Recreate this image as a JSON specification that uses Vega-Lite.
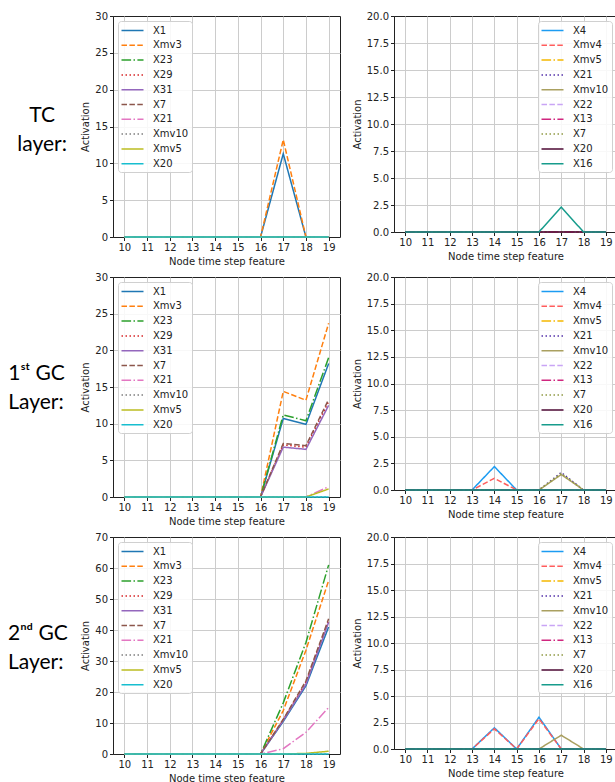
{
  "$schema": "https://vega.github.io/schema/vega-lite/v6.json",
  "padding": {"left": 7, "top": 10, "right": 0, "bottom": 0},
  "background": "white",
  "datasets": {
    "tcL": [
      {"s":"X1","t":10,"v":0},{"s":"X1","t":11,"v":0},{"s":"X1","t":12,"v":0},{"s":"X1","t":13,"v":0},{"s":"X1","t":14,"v":0},{"s":"X1","t":15,"v":0},{"s":"X1","t":16,"v":0},{"s":"X1","t":17,"v":11.3},{"s":"X1","t":18,"v":0},{"s":"X1","t":19,"v":0},
      {"s":"Xmv3","t":10,"v":0},{"s":"Xmv3","t":11,"v":0},{"s":"Xmv3","t":12,"v":0},{"s":"Xmv3","t":13,"v":0},{"s":"Xmv3","t":14,"v":0},{"s":"Xmv3","t":15,"v":0},{"s":"Xmv3","t":16,"v":0},{"s":"Xmv3","t":17,"v":13.2},{"s":"Xmv3","t":18,"v":0},{"s":"Xmv3","t":19,"v":0},
      {"s":"X23","t":10,"v":0},{"s":"X23","t":11,"v":0},{"s":"X23","t":12,"v":0},{"s":"X23","t":13,"v":0},{"s":"X23","t":14,"v":0},{"s":"X23","t":15,"v":0},{"s":"X23","t":16,"v":0},{"s":"X23","t":17,"v":0},{"s":"X23","t":18,"v":0},{"s":"X23","t":19,"v":0},
      {"s":"X29","t":10,"v":0},{"s":"X29","t":11,"v":0},{"s":"X29","t":12,"v":0},{"s":"X29","t":13,"v":0},{"s":"X29","t":14,"v":0},{"s":"X29","t":15,"v":0},{"s":"X29","t":16,"v":0},{"s":"X29","t":17,"v":0},{"s":"X29","t":18,"v":0},{"s":"X29","t":19,"v":0},
      {"s":"X31","t":10,"v":0},{"s":"X31","t":11,"v":0},{"s":"X31","t":12,"v":0},{"s":"X31","t":13,"v":0},{"s":"X31","t":14,"v":0},{"s":"X31","t":15,"v":0},{"s":"X31","t":16,"v":0},{"s":"X31","t":17,"v":0},{"s":"X31","t":18,"v":0},{"s":"X31","t":19,"v":0},
      {"s":"X7","t":10,"v":0},{"s":"X7","t":11,"v":0},{"s":"X7","t":12,"v":0},{"s":"X7","t":13,"v":0},{"s":"X7","t":14,"v":0},{"s":"X7","t":15,"v":0},{"s":"X7","t":16,"v":0},{"s":"X7","t":17,"v":0},{"s":"X7","t":18,"v":0},{"s":"X7","t":19,"v":0},
      {"s":"X21","t":10,"v":0},{"s":"X21","t":11,"v":0},{"s":"X21","t":12,"v":0},{"s":"X21","t":13,"v":0},{"s":"X21","t":14,"v":0},{"s":"X21","t":15,"v":0},{"s":"X21","t":16,"v":0},{"s":"X21","t":17,"v":0},{"s":"X21","t":18,"v":0},{"s":"X21","t":19,"v":0},
      {"s":"Xmv10","t":10,"v":0},{"s":"Xmv10","t":11,"v":0},{"s":"Xmv10","t":12,"v":0},{"s":"Xmv10","t":13,"v":0},{"s":"Xmv10","t":14,"v":0},{"s":"Xmv10","t":15,"v":0},{"s":"Xmv10","t":16,"v":0},{"s":"Xmv10","t":17,"v":0},{"s":"Xmv10","t":18,"v":0},{"s":"Xmv10","t":19,"v":0},
      {"s":"Xmv5","t":10,"v":0},{"s":"Xmv5","t":11,"v":0},{"s":"Xmv5","t":12,"v":0},{"s":"Xmv5","t":13,"v":0},{"s":"Xmv5","t":14,"v":0},{"s":"Xmv5","t":15,"v":0},{"s":"Xmv5","t":16,"v":0},{"s":"Xmv5","t":17,"v":0},{"s":"Xmv5","t":18,"v":0},{"s":"Xmv5","t":19,"v":0},
      {"s":"X20","t":10,"v":0},{"s":"X20","t":11,"v":0},{"s":"X20","t":12,"v":0},{"s":"X20","t":13,"v":0},{"s":"X20","t":14,"v":0},{"s":"X20","t":15,"v":0},{"s":"X20","t":16,"v":0},{"s":"X20","t":17,"v":0},{"s":"X20","t":18,"v":0},{"s":"X20","t":19,"v":0}
    ],
    "tcR": [
      {"s":"X4","t":10,"v":0},{"s":"X4","t":11,"v":0},{"s":"X4","t":12,"v":0},{"s":"X4","t":13,"v":0},{"s":"X4","t":14,"v":0},{"s":"X4","t":15,"v":0},{"s":"X4","t":16,"v":0},{"s":"X4","t":17,"v":0},{"s":"X4","t":18,"v":0},{"s":"X4","t":19,"v":0},
      {"s":"Xmv4","t":10,"v":0},{"s":"Xmv4","t":11,"v":0},{"s":"Xmv4","t":12,"v":0},{"s":"Xmv4","t":13,"v":0},{"s":"Xmv4","t":14,"v":0},{"s":"Xmv4","t":15,"v":0},{"s":"Xmv4","t":16,"v":0},{"s":"Xmv4","t":17,"v":0},{"s":"Xmv4","t":18,"v":0},{"s":"Xmv4","t":19,"v":0},
      {"s":"Xmv5","t":10,"v":0},{"s":"Xmv5","t":11,"v":0},{"s":"Xmv5","t":12,"v":0},{"s":"Xmv5","t":13,"v":0},{"s":"Xmv5","t":14,"v":0},{"s":"Xmv5","t":15,"v":0},{"s":"Xmv5","t":16,"v":0},{"s":"Xmv5","t":17,"v":0},{"s":"Xmv5","t":18,"v":0},{"s":"Xmv5","t":19,"v":0},
      {"s":"X21","t":10,"v":0},{"s":"X21","t":11,"v":0},{"s":"X21","t":12,"v":0},{"s":"X21","t":13,"v":0},{"s":"X21","t":14,"v":0},{"s":"X21","t":15,"v":0},{"s":"X21","t":16,"v":0},{"s":"X21","t":17,"v":0},{"s":"X21","t":18,"v":0},{"s":"X21","t":19,"v":0},
      {"s":"Xmv10","t":10,"v":0},{"s":"Xmv10","t":11,"v":0},{"s":"Xmv10","t":12,"v":0},{"s":"Xmv10","t":13,"v":0},{"s":"Xmv10","t":14,"v":0},{"s":"Xmv10","t":15,"v":0},{"s":"Xmv10","t":16,"v":0},{"s":"Xmv10","t":17,"v":0},{"s":"Xmv10","t":18,"v":0},{"s":"Xmv10","t":19,"v":0},
      {"s":"X22","t":10,"v":0},{"s":"X22","t":11,"v":0},{"s":"X22","t":12,"v":0},{"s":"X22","t":13,"v":0},{"s":"X22","t":14,"v":0},{"s":"X22","t":15,"v":0},{"s":"X22","t":16,"v":0},{"s":"X22","t":17,"v":0},{"s":"X22","t":18,"v":0},{"s":"X22","t":19,"v":0},
      {"s":"X13","t":10,"v":0},{"s":"X13","t":11,"v":0},{"s":"X13","t":12,"v":0},{"s":"X13","t":13,"v":0},{"s":"X13","t":14,"v":0},{"s":"X13","t":15,"v":0},{"s":"X13","t":16,"v":0},{"s":"X13","t":17,"v":0},{"s":"X13","t":18,"v":0},{"s":"X13","t":19,"v":0},
      {"s":"X7","t":10,"v":0},{"s":"X7","t":11,"v":0},{"s":"X7","t":12,"v":0},{"s":"X7","t":13,"v":0},{"s":"X7","t":14,"v":0},{"s":"X7","t":15,"v":0},{"s":"X7","t":16,"v":0},{"s":"X7","t":17,"v":0},{"s":"X7","t":18,"v":0},{"s":"X7","t":19,"v":0},
      {"s":"X20","t":10,"v":0},{"s":"X20","t":11,"v":0},{"s":"X20","t":12,"v":0},{"s":"X20","t":13,"v":0},{"s":"X20","t":14,"v":0},{"s":"X20","t":15,"v":0},{"s":"X20","t":16,"v":0},{"s":"X20","t":17,"v":0},{"s":"X20","t":18,"v":0},{"s":"X20","t":19,"v":0},
      {"s":"X16","t":10,"v":0},{"s":"X16","t":11,"v":0},{"s":"X16","t":12,"v":0},{"s":"X16","t":13,"v":0},{"s":"X16","t":14,"v":0},{"s":"X16","t":15,"v":0},{"s":"X16","t":16,"v":0},{"s":"X16","t":17,"v":2.3},{"s":"X16","t":18,"v":0},{"s":"X16","t":19,"v":0}
    ],
    "g1L": [
      {"s":"X1","t":10,"v":0},{"s":"X1","t":11,"v":0},{"s":"X1","t":12,"v":0},{"s":"X1","t":13,"v":0},{"s":"X1","t":14,"v":0},{"s":"X1","t":15,"v":0},{"s":"X1","t":16,"v":0},{"s":"X1","t":17,"v":10.7},{"s":"X1","t":18,"v":9.9},{"s":"X1","t":19,"v":18.2},
      {"s":"Xmv3","t":10,"v":0},{"s":"Xmv3","t":11,"v":0},{"s":"Xmv3","t":12,"v":0},{"s":"Xmv3","t":13,"v":0},{"s":"Xmv3","t":14,"v":0},{"s":"Xmv3","t":15,"v":0},{"s":"Xmv3","t":16,"v":0},{"s":"Xmv3","t":17,"v":14.4},{"s":"Xmv3","t":18,"v":13.2},{"s":"Xmv3","t":19,"v":23.7},
      {"s":"X23","t":10,"v":0},{"s":"X23","t":11,"v":0},{"s":"X23","t":12,"v":0},{"s":"X23","t":13,"v":0},{"s":"X23","t":14,"v":0},{"s":"X23","t":15,"v":0},{"s":"X23","t":16,"v":0},{"s":"X23","t":17,"v":11.2},{"s":"X23","t":18,"v":10.4},{"s":"X23","t":19,"v":19.0},
      {"s":"X29","t":10,"v":0},{"s":"X29","t":11,"v":0},{"s":"X29","t":12,"v":0},{"s":"X29","t":13,"v":0},{"s":"X29","t":14,"v":0},{"s":"X29","t":15,"v":0},{"s":"X29","t":16,"v":0},{"s":"X29","t":17,"v":7.1},{"s":"X29","t":18,"v":6.8},{"s":"X29","t":19,"v":13.0},
      {"s":"X31","t":10,"v":0},{"s":"X31","t":11,"v":0},{"s":"X31","t":12,"v":0},{"s":"X31","t":13,"v":0},{"s":"X31","t":14,"v":0},{"s":"X31","t":15,"v":0},{"s":"X31","t":16,"v":0},{"s":"X31","t":17,"v":6.8},{"s":"X31","t":18,"v":6.5},{"s":"X31","t":19,"v":12.5},
      {"s":"X7","t":10,"v":0},{"s":"X7","t":11,"v":0},{"s":"X7","t":12,"v":0},{"s":"X7","t":13,"v":0},{"s":"X7","t":14,"v":0},{"s":"X7","t":15,"v":0},{"s":"X7","t":16,"v":0},{"s":"X7","t":17,"v":7.3},{"s":"X7","t":18,"v":7.0},{"s":"X7","t":19,"v":13.3},
      {"s":"X21","t":10,"v":0},{"s":"X21","t":11,"v":0},{"s":"X21","t":12,"v":0},{"s":"X21","t":13,"v":0},{"s":"X21","t":14,"v":0},{"s":"X21","t":15,"v":0},{"s":"X21","t":16,"v":0},{"s":"X21","t":17,"v":0},{"s":"X21","t":18,"v":0},{"s":"X21","t":19,"v":1.4},
      {"s":"Xmv10","t":10,"v":0},{"s":"Xmv10","t":11,"v":0},{"s":"Xmv10","t":12,"v":0},{"s":"Xmv10","t":13,"v":0},{"s":"Xmv10","t":14,"v":0},{"s":"Xmv10","t":15,"v":0},{"s":"Xmv10","t":16,"v":0},{"s":"Xmv10","t":17,"v":0},{"s":"Xmv10","t":18,"v":0},{"s":"Xmv10","t":19,"v":0},
      {"s":"Xmv5","t":10,"v":0},{"s":"Xmv5","t":11,"v":0},{"s":"Xmv5","t":12,"v":0},{"s":"Xmv5","t":13,"v":0},{"s":"Xmv5","t":14,"v":0},{"s":"Xmv5","t":15,"v":0},{"s":"Xmv5","t":16,"v":0},{"s":"Xmv5","t":17,"v":0},{"s":"Xmv5","t":18,"v":0},{"s":"Xmv5","t":19,"v":1.1},
      {"s":"X20","t":10,"v":0},{"s":"X20","t":11,"v":0},{"s":"X20","t":12,"v":0},{"s":"X20","t":13,"v":0},{"s":"X20","t":14,"v":0},{"s":"X20","t":15,"v":0},{"s":"X20","t":16,"v":0},{"s":"X20","t":17,"v":0},{"s":"X20","t":18,"v":0},{"s":"X20","t":19,"v":0}
    ],
    "g1R": [
      {"s":"X4","t":10,"v":0},{"s":"X4","t":11,"v":0},{"s":"X4","t":12,"v":0},{"s":"X4","t":13,"v":0},{"s":"X4","t":14,"v":2.2},{"s":"X4","t":15,"v":0},{"s":"X4","t":16,"v":0},{"s":"X4","t":17,"v":0},{"s":"X4","t":18,"v":0},{"s":"X4","t":19,"v":0},
      {"s":"Xmv4","t":10,"v":0},{"s":"Xmv4","t":11,"v":0},{"s":"Xmv4","t":12,"v":0},{"s":"Xmv4","t":13,"v":0},{"s":"Xmv4","t":14,"v":1.1},{"s":"Xmv4","t":15,"v":0},{"s":"Xmv4","t":16,"v":0},{"s":"Xmv4","t":17,"v":0},{"s":"Xmv4","t":18,"v":0},{"s":"Xmv4","t":19,"v":0},
      {"s":"Xmv5","t":10,"v":0},{"s":"Xmv5","t":11,"v":0},{"s":"Xmv5","t":12,"v":0},{"s":"Xmv5","t":13,"v":0},{"s":"Xmv5","t":14,"v":0},{"s":"Xmv5","t":15,"v":0},{"s":"Xmv5","t":16,"v":0},{"s":"Xmv5","t":17,"v":0},{"s":"Xmv5","t":18,"v":0},{"s":"Xmv5","t":19,"v":0},
      {"s":"X21","t":10,"v":0},{"s":"X21","t":11,"v":0},{"s":"X21","t":12,"v":0},{"s":"X21","t":13,"v":0},{"s":"X21","t":14,"v":0},{"s":"X21","t":15,"v":0},{"s":"X21","t":16,"v":0},{"s":"X21","t":17,"v":1.65},{"s":"X21","t":18,"v":0},{"s":"X21","t":19,"v":0},
      {"s":"Xmv10","t":10,"v":0},{"s":"Xmv10","t":11,"v":0},{"s":"Xmv10","t":12,"v":0},{"s":"Xmv10","t":13,"v":0},{"s":"Xmv10","t":14,"v":0},{"s":"Xmv10","t":15,"v":0},{"s":"Xmv10","t":16,"v":0},{"s":"Xmv10","t":17,"v":1.45},{"s":"Xmv10","t":18,"v":0},{"s":"Xmv10","t":19,"v":0},
      {"s":"X22","t":10,"v":0},{"s":"X22","t":11,"v":0},{"s":"X22","t":12,"v":0},{"s":"X22","t":13,"v":0},{"s":"X22","t":14,"v":0},{"s":"X22","t":15,"v":0},{"s":"X22","t":16,"v":0},{"s":"X22","t":17,"v":0},{"s":"X22","t":18,"v":0},{"s":"X22","t":19,"v":0},
      {"s":"X13","t":10,"v":0},{"s":"X13","t":11,"v":0},{"s":"X13","t":12,"v":0},{"s":"X13","t":13,"v":0},{"s":"X13","t":14,"v":0},{"s":"X13","t":15,"v":0},{"s":"X13","t":16,"v":0},{"s":"X13","t":17,"v":0},{"s":"X13","t":18,"v":0},{"s":"X13","t":19,"v":0},
      {"s":"X7","t":10,"v":0},{"s":"X7","t":11,"v":0},{"s":"X7","t":12,"v":0},{"s":"X7","t":13,"v":0},{"s":"X7","t":14,"v":0},{"s":"X7","t":15,"v":0},{"s":"X7","t":16,"v":0},{"s":"X7","t":17,"v":1.55},{"s":"X7","t":18,"v":0},{"s":"X7","t":19,"v":0},
      {"s":"X20","t":10,"v":0},{"s":"X20","t":11,"v":0},{"s":"X20","t":12,"v":0},{"s":"X20","t":13,"v":0},{"s":"X20","t":14,"v":0},{"s":"X20","t":15,"v":0},{"s":"X20","t":16,"v":0},{"s":"X20","t":17,"v":0},{"s":"X20","t":18,"v":0},{"s":"X20","t":19,"v":0},
      {"s":"X16","t":10,"v":0},{"s":"X16","t":11,"v":0},{"s":"X16","t":12,"v":0},{"s":"X16","t":13,"v":0},{"s":"X16","t":14,"v":0},{"s":"X16","t":15,"v":0},{"s":"X16","t":16,"v":0},{"s":"X16","t":17,"v":0},{"s":"X16","t":18,"v":0},{"s":"X16","t":19,"v":0}
    ],
    "g2L": [
      {"s":"X1","t":10,"v":0},{"s":"X1","t":11,"v":0},{"s":"X1","t":12,"v":0},{"s":"X1","t":13,"v":0},{"s":"X1","t":14,"v":0},{"s":"X1","t":15,"v":0},{"s":"X1","t":16,"v":0},{"s":"X1","t":17,"v":10.5},{"s":"X1","t":18,"v":22.0},{"s":"X1","t":19,"v":41.0},
      {"s":"Xmv3","t":10,"v":0},{"s":"Xmv3","t":11,"v":0},{"s":"Xmv3","t":12,"v":0},{"s":"Xmv3","t":13,"v":0},{"s":"Xmv3","t":14,"v":0},{"s":"Xmv3","t":15,"v":0},{"s":"Xmv3","t":16,"v":0},{"s":"Xmv3","t":17,"v":14.0},{"s":"Xmv3","t":18,"v":33.5},{"s":"Xmv3","t":19,"v":56.0},
      {"s":"X23","t":10,"v":0},{"s":"X23","t":11,"v":0},{"s":"X23","t":12,"v":0},{"s":"X23","t":13,"v":0},{"s":"X23","t":14,"v":0},{"s":"X23","t":15,"v":0},{"s":"X23","t":16,"v":0},{"s":"X23","t":17,"v":16.5},{"s":"X23","t":18,"v":36.0},{"s":"X23","t":19,"v":61.0},
      {"s":"X29","t":10,"v":0},{"s":"X29","t":11,"v":0},{"s":"X29","t":12,"v":0},{"s":"X29","t":13,"v":0},{"s":"X29","t":14,"v":0},{"s":"X29","t":15,"v":0},{"s":"X29","t":16,"v":0},{"s":"X29","t":17,"v":11.0},{"s":"X29","t":18,"v":23.2},{"s":"X29","t":19,"v":43.0},
      {"s":"X31","t":10,"v":0},{"s":"X31","t":11,"v":0},{"s":"X31","t":12,"v":0},{"s":"X31","t":13,"v":0},{"s":"X31","t":14,"v":0},{"s":"X31","t":15,"v":0},{"s":"X31","t":16,"v":0},{"s":"X31","t":17,"v":10.8},{"s":"X31","t":18,"v":22.5},{"s":"X31","t":19,"v":42.5},
      {"s":"X7","t":10,"v":0},{"s":"X7","t":11,"v":0},{"s":"X7","t":12,"v":0},{"s":"X7","t":13,"v":0},{"s":"X7","t":14,"v":0},{"s":"X7","t":15,"v":0},{"s":"X7","t":16,"v":0},{"s":"X7","t":17,"v":11.2},{"s":"X7","t":18,"v":23.6},{"s":"X7","t":19,"v":43.6},
      {"s":"X21","t":10,"v":0},{"s":"X21","t":11,"v":0},{"s":"X21","t":12,"v":0},{"s":"X21","t":13,"v":0},{"s":"X21","t":14,"v":0},{"s":"X21","t":15,"v":0},{"s":"X21","t":16,"v":0},{"s":"X21","t":17,"v":1.7},{"s":"X21","t":18,"v":7.0},{"s":"X21","t":19,"v":15.0},
      {"s":"Xmv10","t":10,"v":0},{"s":"Xmv10","t":11,"v":0},{"s":"Xmv10","t":12,"v":0},{"s":"Xmv10","t":13,"v":0},{"s":"Xmv10","t":14,"v":0},{"s":"Xmv10","t":15,"v":0},{"s":"Xmv10","t":16,"v":0},{"s":"Xmv10","t":17,"v":0},{"s":"Xmv10","t":18,"v":0},{"s":"Xmv10","t":19,"v":0},
      {"s":"Xmv5","t":10,"v":0},{"s":"Xmv5","t":11,"v":0},{"s":"Xmv5","t":12,"v":0},{"s":"Xmv5","t":13,"v":0},{"s":"Xmv5","t":14,"v":0},{"s":"Xmv5","t":15,"v":0},{"s":"Xmv5","t":16,"v":0},{"s":"Xmv5","t":17,"v":0},{"s":"Xmv5","t":18,"v":0.2},{"s":"Xmv5","t":19,"v":0.9},
      {"s":"X20","t":10,"v":0},{"s":"X20","t":11,"v":0},{"s":"X20","t":12,"v":0},{"s":"X20","t":13,"v":0},{"s":"X20","t":14,"v":0},{"s":"X20","t":15,"v":0},{"s":"X20","t":16,"v":0},{"s":"X20","t":17,"v":0},{"s":"X20","t":18,"v":0},{"s":"X20","t":19,"v":0}
    ],
    "g2R": [
      {"s":"X4","t":10,"v":0},{"s":"X4","t":11,"v":0},{"s":"X4","t":12,"v":0},{"s":"X4","t":13,"v":0},{"s":"X4","t":14,"v":2.0},{"s":"X4","t":15,"v":0},{"s":"X4","t":16,"v":3.0},{"s":"X4","t":17,"v":0},{"s":"X4","t":18,"v":0},{"s":"X4","t":19,"v":0},
      {"s":"Xmv4","t":10,"v":0},{"s":"Xmv4","t":11,"v":0},{"s":"Xmv4","t":12,"v":0},{"s":"Xmv4","t":13,"v":0},{"s":"Xmv4","t":14,"v":1.9},{"s":"Xmv4","t":15,"v":0},{"s":"Xmv4","t":16,"v":2.85},{"s":"Xmv4","t":17,"v":0},{"s":"Xmv4","t":18,"v":0},{"s":"Xmv4","t":19,"v":0},
      {"s":"Xmv5","t":10,"v":0},{"s":"Xmv5","t":11,"v":0},{"s":"Xmv5","t":12,"v":0},{"s":"Xmv5","t":13,"v":0},{"s":"Xmv5","t":14,"v":0},{"s":"Xmv5","t":15,"v":0},{"s":"Xmv5","t":16,"v":0},{"s":"Xmv5","t":17,"v":0},{"s":"Xmv5","t":18,"v":0},{"s":"Xmv5","t":19,"v":0},
      {"s":"X21","t":10,"v":0},{"s":"X21","t":11,"v":0},{"s":"X21","t":12,"v":0},{"s":"X21","t":13,"v":0},{"s":"X21","t":14,"v":0},{"s":"X21","t":15,"v":0},{"s":"X21","t":16,"v":0},{"s":"X21","t":17,"v":0},{"s":"X21","t":18,"v":0},{"s":"X21","t":19,"v":0},
      {"s":"Xmv10","t":10,"v":0},{"s":"Xmv10","t":11,"v":0},{"s":"Xmv10","t":12,"v":0},{"s":"Xmv10","t":13,"v":0},{"s":"Xmv10","t":14,"v":0},{"s":"Xmv10","t":15,"v":0},{"s":"Xmv10","t":16,"v":0},{"s":"Xmv10","t":17,"v":1.3},{"s":"Xmv10","t":18,"v":0},{"s":"Xmv10","t":19,"v":0},
      {"s":"X22","t":10,"v":0},{"s":"X22","t":11,"v":0},{"s":"X22","t":12,"v":0},{"s":"X22","t":13,"v":0},{"s":"X22","t":14,"v":0},{"s":"X22","t":15,"v":0},{"s":"X22","t":16,"v":0},{"s":"X22","t":17,"v":0},{"s":"X22","t":18,"v":0},{"s":"X22","t":19,"v":0},
      {"s":"X13","t":10,"v":0},{"s":"X13","t":11,"v":0},{"s":"X13","t":12,"v":0},{"s":"X13","t":13,"v":0},{"s":"X13","t":14,"v":0},{"s":"X13","t":15,"v":0},{"s":"X13","t":16,"v":0},{"s":"X13","t":17,"v":0},{"s":"X13","t":18,"v":0},{"s":"X13","t":19,"v":0},
      {"s":"X7","t":10,"v":0},{"s":"X7","t":11,"v":0},{"s":"X7","t":12,"v":0},{"s":"X7","t":13,"v":0},{"s":"X7","t":14,"v":0},{"s":"X7","t":15,"v":0},{"s":"X7","t":16,"v":0},{"s":"X7","t":17,"v":0},{"s":"X7","t":18,"v":0},{"s":"X7","t":19,"v":0},
      {"s":"X20","t":10,"v":0},{"s":"X20","t":11,"v":0},{"s":"X20","t":12,"v":0},{"s":"X20","t":13,"v":0},{"s":"X20","t":14,"v":0},{"s":"X20","t":15,"v":0},{"s":"X20","t":16,"v":0},{"s":"X20","t":17,"v":0},{"s":"X20","t":18,"v":0},{"s":"X20","t":19,"v":0},
      {"s":"X16","t":10,"v":0},{"s":"X16","t":11,"v":0},{"s":"X16","t":12,"v":0},{"s":"X16","t":13,"v":0},{"s":"X16","t":14,"v":0},{"s":"X16","t":15,"v":0},{"s":"X16","t":16,"v":0},{"s":"X16","t":17,"v":0},{"s":"X16","t":18,"v":0},{"s":"X16","t":19,"v":0}
    ]
  },
  "columns": 2,
  "bounds": "flush",
  "spacing": {"row": 40, "column": 54},
  "resolve": {"scale": {"x": "independent", "y": "independent", "color": "independent", "strokeDash": "independent"}, "legend": {"color": "independent", "strokeDash": "independent"}, "axis": {"x": "independent", "y": "independent"}},
  "concat": [
    {
      "width": 227, "height": 221,
      "data": {"name": "tcL"},
      "title": {"text": ["TC", "layer:"], "orient": "left", "angle": 0, "align": "center", "baseline": "middle", "anchor": "middle", "frame": "group", "offset": -11, "dy": -11, "font": "Lato", "fontSize": 21, "fontWeight": "normal", "lineHeight": 29, "color": "#000"},
      "mark": {"type": "line", "strokeWidth": 1.5},
      "encoding": {
        "x": {"field": "t", "type": "quantitative", "scale": {"domain": [9.5, 19.5], "nice": false, "zero": false}, "axis": {"values": [10,11,12,13,14,15,16,17,18,19], "format": "d", "title": "Node time step feature"}},
        "y": {"field": "v", "type": "quantitative", "scale": {"domain": [0, 30], "nice": false}, "axis": {"values": [0,5,10,15,20,25,30], "format": "d", "title": "Activation", "gridOpacity": {"condition": {"test": "datum.index === 1", "value": 0}, "value": 1}}},
        "color": {"field": "s", "type": "nominal", "scale": {"domain": ["X1","Xmv3","X23","X29","X31","X7","X21","Xmv10","Xmv5","X20"], "range": ["#1f77b4","#ff7f0e","#2ca02c","#d62728","#9467bd","#8c564b","#e377c2","#7f7f7f","#bcbd22","#17becf"]}, "legend": {"title": null, "orient": "top-left"}},
        "strokeDash": {"field": "s", "type": "nominal", "scale": {"domain": ["X1","Xmv3","X23","X29","X31","X7","X21","Xmv10","Xmv5","X20"], "range": [[1,0],[5.5,2.4],[9.6,2.4,1.5,2.4],[1.5,2.5],[1,0],[5.5,2.4],[9.6,2.4,1.5,2.4],[1.5,2.5],[1,0],[1,0]]}, "legend": {"title": null, "orient": "top-left"}}
      }
    },
    {
      "width": 223, "height": 216,
      "data": {"name": "tcR"},
      "mark": {"type": "line", "strokeWidth": 1.5},
      "encoding": {
        "x": {"field": "t", "type": "quantitative", "scale": {"domain": [9.5, 19.5], "nice": false, "zero": false}, "axis": {"values": [10,11,12,13,14,15,16,17,18,19], "format": "d", "title": "Node time step feature"}},
        "y": {"field": "v", "type": "quantitative", "scale": {"domain": [0, 20], "nice": false}, "axis": {"values": [0,2.5,5,7.5,10,12.5,15,17.5,20], "format": ".1f", "title": "Activation", "gridOpacity": {"condition": {"test": "datum.index === 1", "value": 0}, "value": 1}}},
        "color": {"field": "s", "type": "nominal", "scale": {"domain": ["X4","Xmv4","Xmv5","X21","Xmv10","X22","X13","X7","X20","X16"], "range": ["#1c9cf2","#ff5c5c","#f5b800","#5533aa","#aaa060","#c9a5f5","#d0267f","#919b45","#4d0a35","#179c8c"]}, "legend": {"title": null, "orient": "top-right"}},
        "strokeDash": {"field": "s", "type": "nominal", "scale": {"domain": ["X4","Xmv4","Xmv5","X21","Xmv10","X22","X13","X7","X20","X16"], "range": [[1,0],[5.5,2.4],[9.6,2.4,1.5,2.4],[1.5,2.5],[1,0],[5.5,2.4],[9.6,2.4,1.5,2.4],[1.5,2.5],[1,0],[1,0]]}, "legend": {"title": null, "orient": "top-right"}}
      }
    },
    {
      "width": 227, "height": 220,
      "data": {"name": "g1L"},
      "title": {"text": ["1ˢᵗ GC", "Layer:"], "orient": "left", "angle": 0, "align": "left", "baseline": "middle", "anchor": "middle", "frame": "group", "offset": 16, "dy": -13, "font": "Lato", "fontSize": 21, "fontWeight": "normal", "lineHeight": 29, "color": "#000"},
      "mark": {"type": "line", "strokeWidth": 1.5},
      "encoding": {
        "x": {"field": "t", "type": "quantitative", "scale": {"domain": [9.5, 19.5], "nice": false, "zero": false}, "axis": {"values": [10,11,12,13,14,15,16,17,18,19], "format": "d", "title": "Node time step feature"}},
        "y": {"field": "v", "type": "quantitative", "scale": {"domain": [0, 30], "nice": false}, "axis": {"values": [0,5,10,15,20,25,30], "format": "d", "title": "Activation", "gridOpacity": {"condition": {"test": "datum.index === 1", "value": 0}, "value": 1}}},
        "color": {"field": "s", "type": "nominal", "scale": {"domain": ["X1","Xmv3","X23","X29","X31","X7","X21","Xmv10","Xmv5","X20"], "range": ["#1f77b4","#ff7f0e","#2ca02c","#d62728","#9467bd","#8c564b","#e377c2","#7f7f7f","#bcbd22","#17becf"]}, "legend": {"title": null, "orient": "top-left"}},
        "strokeDash": {"field": "s", "type": "nominal", "scale": {"domain": ["X1","Xmv3","X23","X29","X31","X7","X21","Xmv10","Xmv5","X20"], "range": [[1,0],[5.5,2.4],[9.6,2.4,1.5,2.4],[1.5,2.5],[1,0],[5.5,2.4],[9.6,2.4,1.5,2.4],[1.5,2.5],[1,0],[1,0]]}, "legend": {"title": null, "orient": "top-left"}}
      }
    },
    {
      "width": 223, "height": 213,
      "data": {"name": "g1R"},
      "mark": {"type": "line", "strokeWidth": 1.5},
      "encoding": {
        "x": {"field": "t", "type": "quantitative", "scale": {"domain": [9.5, 19.5], "nice": false, "zero": false}, "axis": {"values": [10,11,12,13,14,15,16,17,18,19], "format": "d", "title": "Node time step feature"}},
        "y": {"field": "v", "type": "quantitative", "scale": {"domain": [0, 20], "nice": false}, "axis": {"values": [0,2.5,5,7.5,10,12.5,15,17.5,20], "format": ".1f", "title": "Activation", "gridOpacity": {"condition": {"test": "datum.index === 1", "value": 0}, "value": 1}}},
        "color": {"field": "s", "type": "nominal", "scale": {"domain": ["X4","Xmv4","Xmv5","X21","Xmv10","X22","X13","X7","X20","X16"], "range": ["#1c9cf2","#ff5c5c","#f5b800","#5533aa","#aaa060","#c9a5f5","#d0267f","#919b45","#4d0a35","#179c8c"]}, "legend": {"title": null, "orient": "top-right"}},
        "strokeDash": {"field": "s", "type": "nominal", "scale": {"domain": ["X4","Xmv4","Xmv5","X21","Xmv10","X22","X13","X7","X20","X16"], "range": [[1,0],[5.5,2.4],[9.6,2.4,1.5,2.4],[1.5,2.5],[1,0],[5.5,2.4],[9.6,2.4,1.5,2.4],[1.5,2.5],[1,0],[1,0]]}, "legend": {"title": null, "orient": "top-right"}}
      }
    },
    {
      "width": 227, "height": 217,
      "data": {"name": "g2L"},
      "title": {"text": ["2ⁿᵈ GC", "Layer:"], "orient": "left", "angle": 0, "align": "left", "baseline": "middle", "anchor": "middle", "frame": "group", "offset": 13, "dy": -12, "font": "Lato", "fontSize": 21, "fontWeight": "normal", "lineHeight": 29, "color": "#000"},
      "mark": {"type": "line", "strokeWidth": 1.5},
      "encoding": {
        "x": {"field": "t", "type": "quantitative", "scale": {"domain": [9.5, 19.5], "nice": false, "zero": false}, "axis": {"values": [10,11,12,13,14,15,16,17,18,19], "format": "d", "title": "Node time step feature"}},
        "y": {"field": "v", "type": "quantitative", "scale": {"domain": [0, 70], "nice": false}, "axis": {"values": [0,10,20,30,40,50,60,70], "format": "d", "title": "Activation", "gridOpacity": {"condition": {"test": "datum.index === 1", "value": 0}, "value": 1}}},
        "color": {"field": "s", "type": "nominal", "scale": {"domain": ["X1","Xmv3","X23","X29","X31","X7","X21","Xmv10","Xmv5","X20"], "range": ["#1f77b4","#ff7f0e","#2ca02c","#d62728","#9467bd","#8c564b","#e377c2","#7f7f7f","#bcbd22","#17becf"]}, "legend": {"title": null, "orient": "top-left"}},
        "strokeDash": {"field": "s", "type": "nominal", "scale": {"domain": ["X1","Xmv3","X23","X29","X31","X7","X21","Xmv10","Xmv5","X20"], "range": [[1,0],[5.5,2.4],[9.6,2.4,1.5,2.4],[1.5,2.5],[1,0],[5.5,2.4],[9.6,2.4,1.5,2.4],[1.5,2.5],[1,0],[1,0]]}, "legend": {"title": null, "orient": "top-left"}}
      }
    },
    {
      "width": 223, "height": 212,
      "data": {"name": "g2R"},
      "mark": {"type": "line", "strokeWidth": 1.5},
      "encoding": {
        "x": {"field": "t", "type": "quantitative", "scale": {"domain": [9.5, 19.5], "nice": false, "zero": false}, "axis": {"values": [10,11,12,13,14,15,16,17,18,19], "format": "d", "title": "Node time step feature"}},
        "y": {"field": "v", "type": "quantitative", "scale": {"domain": [0, 20], "nice": false}, "axis": {"values": [0,2.5,5,7.5,10,12.5,15,17.5,20], "format": ".1f", "title": "Activation", "gridOpacity": {"condition": {"test": "datum.index === 1", "value": 0}, "value": 1}}},
        "color": {"field": "s", "type": "nominal", "scale": {"domain": ["X4","Xmv4","Xmv5","X21","Xmv10","X22","X13","X7","X20","X16"], "range": ["#1c9cf2","#ff5c5c","#f5b800","#5533aa","#aaa060","#c9a5f5","#d0267f","#919b45","#4d0a35","#179c8c"]}, "legend": {"title": null, "orient": "top-right"}},
        "strokeDash": {"field": "s", "type": "nominal", "scale": {"domain": ["X4","Xmv4","Xmv5","X21","Xmv10","X22","X13","X7","X20","X16"], "range": [[1,0],[5.5,2.4],[9.6,2.4,1.5,2.4],[1.5,2.5],[1,0],[5.5,2.4],[9.6,2.4,1.5,2.4],[1.5,2.5],[1,0],[1,0]]}, "legend": {"title": null, "orient": "top-right"}}
      }
    }
  ],
  "config": {
    "font": "DejaVu Sans",
    "view": {"stroke": "#222", "strokeWidth": 1},
    "axis": {"labelFont": "DejaVu Sans", "labelFontSize": 10, "titleFont": "DejaVu Sans", "titleFontSize": 10, "titleFontWeight": "normal", "labelColor": "#222", "titleColor": "#222", "tickColor": "#222", "tickSize": 3.5, "domainColor": "#222", "gridColor": "#cccccc", "gridWidth": 1, "labelFlush": false, "labelOverlap": false, "labelPadding": 2, "titlePadding": 4},
    "legend": {"offset": 5, "padding": 3, "rowPadding": 2.8, "symbolType": "M-2,0H2", "symbolSize": 121, "symbolStrokeWidth": 1.5, "symbolOffset": 5, "labelFont": "DejaVu Sans", "labelFontSize": 10, "labelOffset": 14, "labelColor": "#222", "strokeColor": "#d0d0d0", "fillColor": "rgba(255,255,255,0.85)", "cornerRadius": 3}
  }
}
